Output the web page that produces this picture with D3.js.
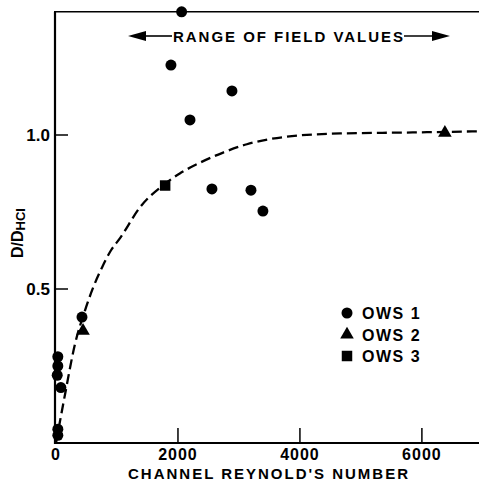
<!DOCTYPE html>
<html lang="en">
<head>
<meta charset="UTF-8">
<title>D/DHCI vs Channel Reynold's Number</title>
<script src="https://d3js.org/d3.v7.min.js"></script>
<style>
    body { margin: 0; background: white; }
    text { font-family: "Liberation Sans", Arial, sans-serif; font-weight: bold; fill: black; }
</style>
</head>
<body>
<script>
    // Data
    let ows1X = [2060, 1885, 2885, 2197, 2557, 3197, 3393, 426, 30, 30, 20, 80, 30, 30];
    let ows1Y = [1.40, 1.227, 1.143, 1.049, 0.825, 0.821, 0.753, 0.409, 0.28, 0.25, 0.22, 0.18, 0.045, 0.025];
    let ows2X = [443, 6377];
    let ows2Y = [0.364, 1.007];
    let ows3X = [1790];
    let ows3Y = [0.836];

    // dashed trend line
    let curveX = [0, 150, 310, 475, 610, 755, 900, 1050, 1380, 1790, 2030, 2360, 2740, 3130, 3720, 4660, 5750, 6920];
    let curveY = [0, 0.16, 0.32, 0.43, 0.505, 0.57, 0.625, 0.665, 0.766, 0.842, 0.875, 0.91, 0.943, 0.97, 0.993, 1.005, 1.008, 1.012];

    let xTicks = [0, 2000, 4000, 6000];
    let yTicks = [0.5, 1.0];
    let legendLabels = ["OWS 1", "OWS 2", "OWS 3"];

    let width = 479, height = 491;

    let svg = d3.select("body").append("svg")
        .attr("width", width)
        .attr("height", height);

    let x = d3.scaleLinear().domain([0, 6920]).range([56, 478]);
    let y = d3.scaleLinear().domain([0, 1.4]).range([443, 11.8]);

    // frame: left, bottom, top
    svg.append("line").attr("x1", x(0) - 1).attr("x2", x(0) - 1).attr("y1", y(1.4)).attr("y2", y(0) + 1)
        .attr("stroke", "black").attr("stroke-width", 2.2);
    svg.append("line").attr("x1", x(0) - 2).attr("x2", width).attr("y1", y(0)).attr("y2", y(0))
        .attr("stroke", "black").attr("stroke-width", 2);
    svg.append("line").attr("x1", x(0) - 2).attr("x2", width).attr("y1", y(1.4)).attr("y2", y(1.4))
        .attr("stroke", "black").attr("stroke-width", 1.6);

    // x ticks (inward) and labels
    svg.append("g").selectAll("line")
        .data(xTicks.filter(d => d > 0))
        .enter().append("line")
        .attr("x1", d => x(d)).attr("x2", d => x(d))
        .attr("y1", y(0)).attr("y2", y(0) - 15)
        .attr("stroke", "black").attr("stroke-width", 1.5);

    svg.append("g").selectAll("text")
        .data(xTicks)
        .enter().append("text")
        .attr("x", d => x(d))
        .attr("y", 460)
        .attr("text-anchor", "middle")
        .style("font-size", "16px")
        .style("letter-spacing", "1px")
        .text(d => d);

    // y ticks (inward) and labels
    svg.append("g").selectAll("line")
        .data(yTicks)
        .enter().append("line")
        .attr("x1", x(0)).attr("x2", x(0) + 12)
        .attr("y1", d => y(d)).attr("y2", d => y(d))
        .attr("stroke", "black").attr("stroke-width", 1.5);

    svg.append("g").selectAll("text")
        .data(yTicks)
        .enter().append("text")
        .attr("x", 50)
        .attr("y", d => y(d) + 6)
        .attr("text-anchor", "end")
        .style("font-size", "17px")
        .text(d => d.toFixed(1));

    // axis titles
    svg.append("text")
        .attr("x", 268)
        .attr("y", 479)
        .attr("text-anchor", "middle")
        .style("font-size", "15px")
        .attr("textLength", 280)
        .text("CHANNEL REYNOLD'S NUMBER");

    let yTitle = svg.append("text")
        .attr("transform", "translate(23,233) rotate(-90)")
        .attr("text-anchor", "middle")
        .style("font-size", "16px");
    yTitle.append("tspan").text("D/D");
    yTitle.append("tspan").attr("dy", 2).style("font-size", "13px").text("HCI");

    // range annotation with arrows
    svg.append("text")
        .attr("x", 288)
        .attr("y", 42)
        .attr("text-anchor", "middle")
        .style("font-size", "15px")
        .attr("textLength", 230)
        .text("RANGE OF FIELD VALUES");

    svg.append("line").attr("x1", 140).attr("x2", 172).attr("y1", 36).attr("y2", 36)
        .attr("stroke", "black").attr("stroke-width", 1.6);
    svg.append("path").attr("d", "M128,36 L146,31 L146,41 Z").attr("fill", "black");
    svg.append("line").attr("x1", 404).attr("x2", 438).attr("y1", 36).attr("y2", 36)
        .attr("stroke", "black").attr("stroke-width", 1.6);
    svg.append("path").attr("d", "M450,36 L432,31 L432,41 Z").attr("fill", "black");

    // dashed curve
    let line = d3.line()
        .x(d => x(d[0]))
        .y(d => y(d[1]))
        .curve(d3.curveMonotoneX);

    svg.append("path")
        .datum(d3.zip(curveX, curveY))
        .attr("d", line)
        .attr("fill", "none")
        .attr("stroke", "black")
        .attr("stroke-width", 2.3)
        .attr("stroke-dasharray", "10,5");

    // markers
    let circleSym = d3.symbol().type(d3.symbolCircle).size(95);
    let triSym = d3.symbol().type(d3.symbolTriangle).size(80);
    let sqSym = d3.symbol().type(d3.symbolSquare).size(110);

    svg.append("g").selectAll("path")
        .data(d3.zip(ows1X, ows1Y))
        .enter().append("path")
        .attr("d", circleSym)
        .attr("transform", d => "translate(" + x(d[0]) + "," + y(d[1]) + ")");

    svg.append("g").selectAll("path")
        .data(d3.zip(ows2X, ows2Y))
        .enter().append("path")
        .attr("d", triSym)
        .attr("transform", d => "translate(" + x(d[0]) + "," + y(d[1]) + ")");

    svg.append("g").selectAll("path")
        .data(d3.zip(ows3X, ows3Y))
        .enter().append("path")
        .attr("d", sqSym)
        .attr("transform", d => "translate(" + x(d[0]) + "," + y(d[1]) + ")");

    // legend
    let syms = [circleSym, triSym, sqSym];
    let legend = svg.append("g").selectAll("g")
        .data(legendLabels)
        .enter().append("g")
        .attr("transform", (d, i) => "translate(347," + (313 + i * 21.5) + ")");

    legend.append("path").attr("d", (d, i) => syms[i]());
    legend.append("text")
        .attr("x", 15)
        .attr("y", 6)
        .style("font-size", "16px")
        .style("letter-spacing", "1.5px")
        .text(d => d);
</script>
</body>
</html>
